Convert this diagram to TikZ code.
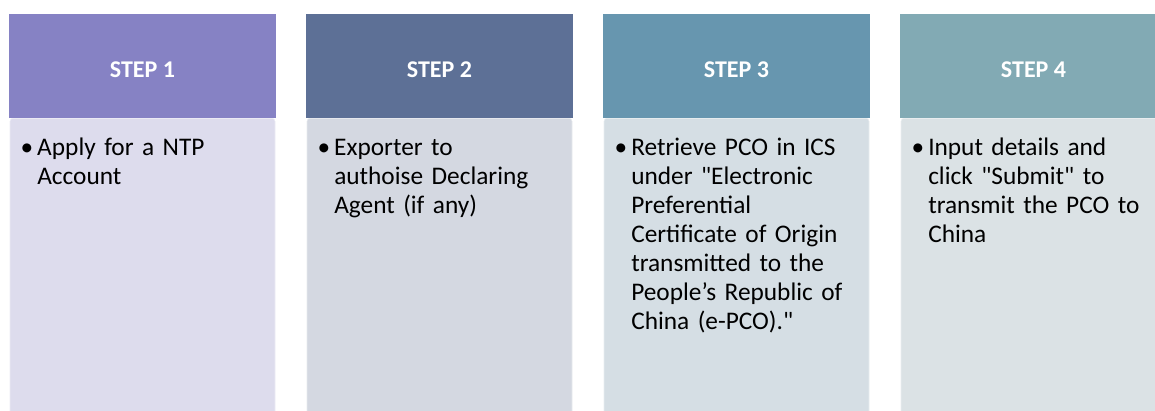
\documentclass[tikz,border=0pt]{standalone}
\usepackage{fontspec}
\setmainfont{Carlito}
\definecolor{headPurple}{RGB}{134, 130, 196}
\definecolor{headSlate}{RGB}{93, 112, 150}
\definecolor{headSteel}{RGB}{103, 150, 175}
\definecolor{headTeal}{RGB}{130, 170, 180}
\definecolor{bodyPurple}{RGB}{221, 220, 237}
\definecolor{bodySlate}{RGB}{212, 216, 225}
\definecolor{bodySteel}{RGB}{213, 222, 228}
\definecolor{bodyTeal}{RGB}{219, 226, 229}
\usepackage{tikz}
\usetikzlibrary{positioning}

\tikzset{
  stephead/.style={minimum width=200.25pt, minimum height=78pt, inner sep=0pt,
    text=white, font=\fontsize{18pt}{21pt}\selectfont\bfseries, text height=18pt},
  stepbody/.style={anchor=north, minimum width=198.75pt, minimum height=225pt,
    inner sep=0pt, rounded corners=2.25pt},
  steptext/.style={anchor=base west, inner sep=0pt, text width=180pt, align=left,
    font=\fontsize{19pt}{21.75pt}\selectfont}
}
\newcommand{\stepbullet}{\llap{\textbullet\hspace{3pt}}}
\newcommand{\qt}{\textquotedbl}

\begin{document}
\begin{tikzpicture}[x=0.75pt, y=-0.75pt]
  \useasboundingbox (0,0) rectangle (1155,410);
  \clip (0,0) rectangle (1155,410);

  % Step 1
  \node[stephead, fill=headPurple] (head1) at (142.5,66) {STEP 1};
  \node[stepbody, fill=bodyPurple, draw=white!45!bodyPurple] (body1) at (142.5,118) {};
  \node[steptext] (text1) at (37,155) {\stepbullet Apply for a NTP\\Account};

  % Step 2
  \node[stephead, fill=headSlate] (head2) at (439.5,66) {STEP 2};
  \node[stepbody, fill=bodySlate, draw=white!45!bodySlate] (body2) at (439.5,118) {};
  \node[steptext] (text2) at (334,155) {\stepbullet Exporter to\\authoise Declaring\\Agent (if any)};

  % Step 3
  \node[stephead, fill=headSteel] (head3) at (736.5,66) {STEP 3};
  \node[stepbody, fill=bodySteel, draw=white!45!bodySteel] (body3) at (736.5,118) {};
  \node[steptext] (text3) at (631,155) {\stepbullet Retrieve PCO in ICS\\under \qt Electronic\\Preferential\\Certificate of Origin\\transmitted to the\\People’s Republic of\\China (e-PCO).\qt};

  % Step 4 (runs off the right edge)
  \node[stephead, fill=headTeal] (head4) at (1033.5,66) {STEP 4};
  \node[stepbody, fill=bodyTeal, draw=white!45!bodyTeal] (body4) at (1033.5,118) {};
  \node[steptext] (text4) at (928,155) {\stepbullet Input details and\\click \qt Submit\qt{} to\\transmit the PCO to\\China};
\end{tikzpicture}
\end{document}
